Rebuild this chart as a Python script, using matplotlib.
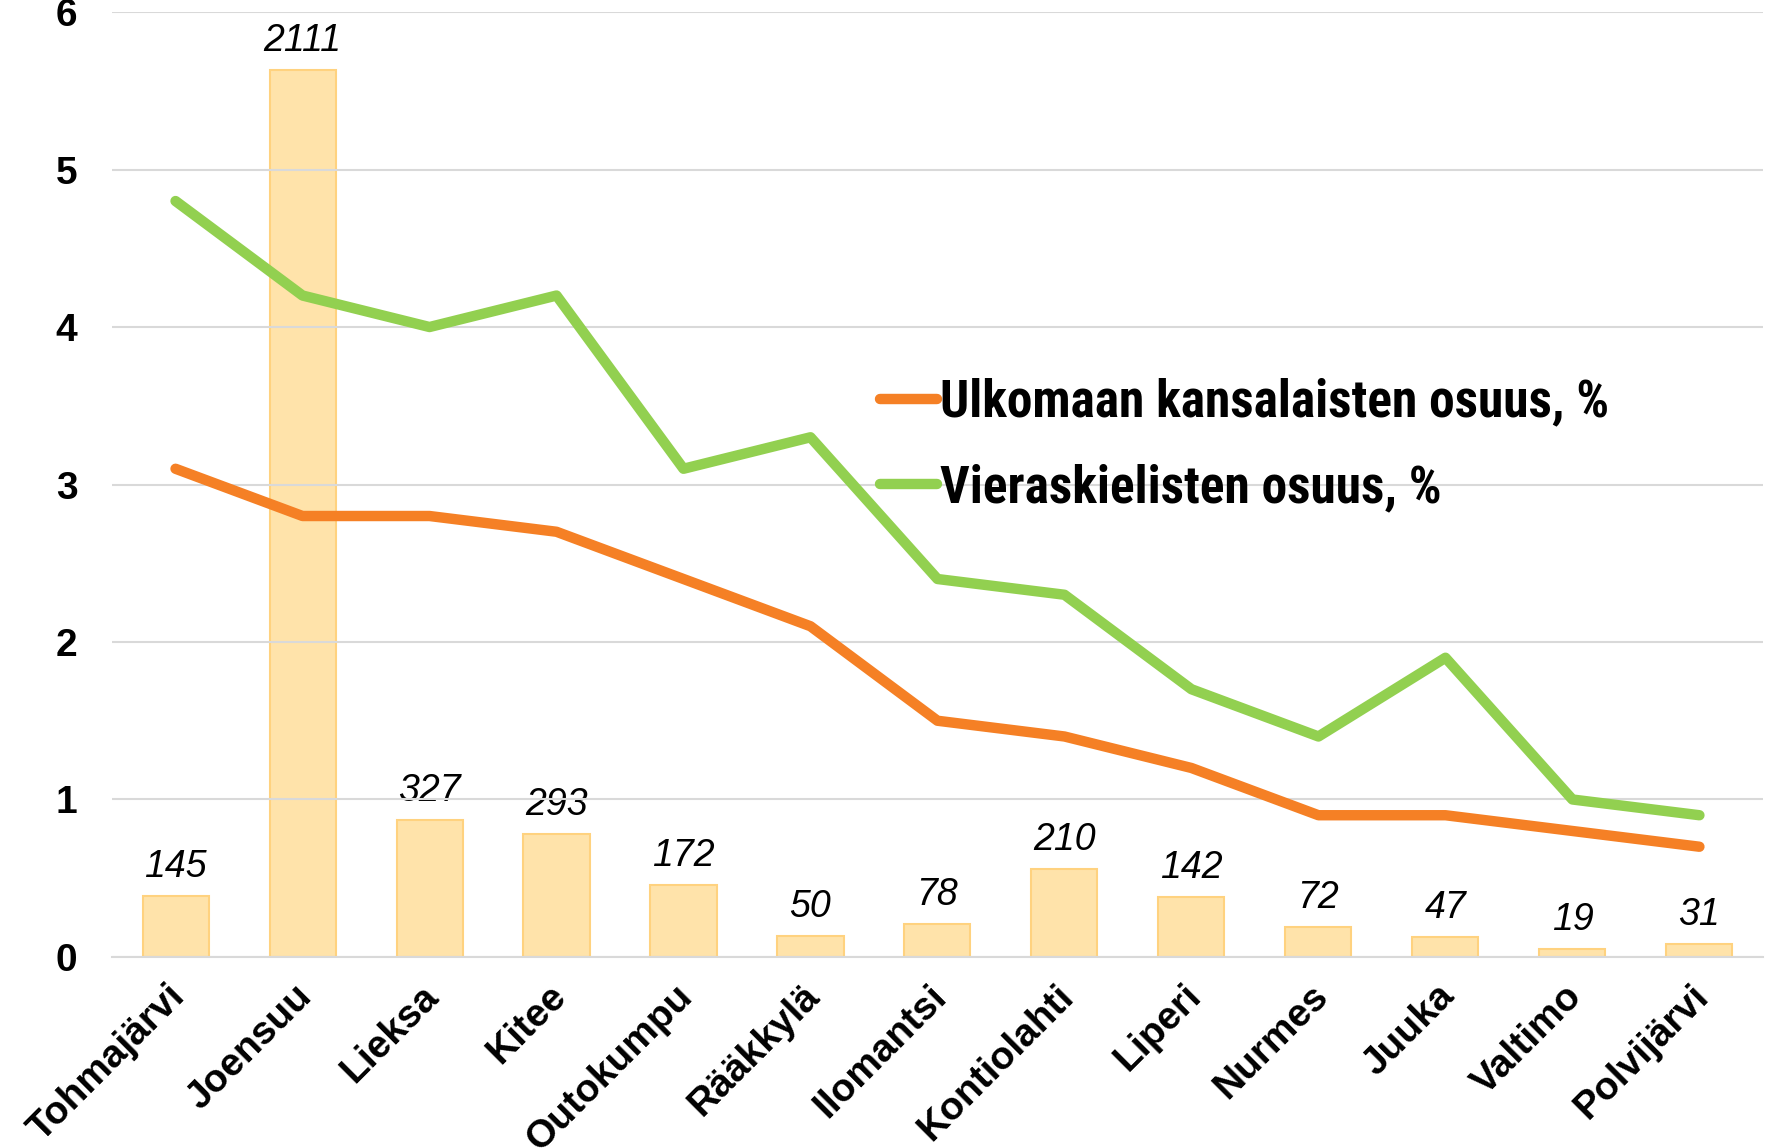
import matplotlib
matplotlib.use("Agg")
import matplotlib.pyplot as plt
import matplotlib.transforms as mtransforms
from matplotlib import font_manager
from matplotlib.font_manager import FontProperties

categories = ["Tohmajärvi", "Joensuu", "Lieksa", "Kitee", "Outokumpu", "Rääkkylä",
              "Ilomantsi", "Kontiolahti", "Liperi", "Nurmes", "Juuka", "Valtimo", "Polvijärvi"]
counts = [145, 2111, 327, 293, 172, 50, 78, 210, 142, 72, 47, 19, 31]
ulkomaan = [3.1, 2.8, 2.8, 2.7, 2.4, 2.1, 1.5, 1.4, 1.2, 0.9, 0.9, 0.8, 0.7]
vieraskiel = [4.8, 4.2, 4.0, 4.2, 3.1, 3.3, 2.4, 2.3, 1.7, 1.4, 1.9, 1.0, 0.9]
yticks = [0, 1, 2, 3, 4, 5, 6]

# find a condensed bold font for the legend, if any
cond = None
for f in font_manager.fontManager.ttflist:
    nm = f.name.lower()
    fn = f.fname.lower()
    is_cond = ("narrow" in nm or "condensed" in nm or "condensed" in fn or "narrow" in fn
               or str(f.stretch) in ("condensed", "semi-condensed", "extra-condensed"))
    is_bold = (f.weight in ("bold", 700, "700") or "bold" in fn) and "italic" not in fn \
        and "oblique" not in fn and str(f.style) == "normal"
    if is_cond and is_bold and "semibold" not in fn and "extrabold" not in fn:
        score = 0 if ("liberation" in nm or "arimo" in nm) else 1 if "roboto" in nm else 2
        if cond is None or score < cond[0]:
            cond = (score, f.fname)

if cond is not None:
    leg_prop = FontProperties(fname=cond[1], size=37)
else:
    leg_prop = FontProperties(family="Liberation Sans", weight="bold", size=31)

plt.rcParams["font.family"] = ["Liberation Sans", "DejaVu Sans"]

fig = plt.figure(figsize=(17.7, 11.48), dpi=100)
ax = fig.add_axes([0.0633, 0.1664, 0.9327, 0.8231])
ax2 = ax.twinx()
ax.set_zorder(ax2.get_zorder() + 1)
ax.patch.set_visible(False)

x = list(range(len(categories)))
ax2.bar(x, counts, width=0.52, color="#FFE3AA", edgecolor="#FFD27F", linewidth=1.5, zorder=2)
ax2.set_ylim(0, 2250)
ax2.set_yticks([])
for s in ax2.spines.values():
    s.set_visible(False)
for xi, c in zip(x, counts):
    ax2.annotate(str(c), (xi, c), xytext=(0, 8), textcoords="offset points",
                 ha="center", va="bottom", fontsize=27, style="italic", color="black")

ax.plot(x, ulkomaan, color="#F58025", lw=7.5, solid_capstyle="round", solid_joinstyle="round",
        label="Ulkomaan kansalaisten osuus, %", zorder=4)
ax.plot(x, vieraskiel, color="#92D050", lw=7.5, solid_capstyle="round", solid_joinstyle="round",
        label="Vieraskielisten osuus, %", zorder=4)

ax.set_xlim(-0.5, len(categories) - 0.5)
ax.set_ylim(0, 6)
ax.set_yticks(yticks)
ax.set_yticklabels([str(t) for t in yticks], fontsize=28, fontweight="bold")
ax.tick_params(axis="y", length=0, pad=25)
ax.grid(axis="y", color="#D9D9D9", lw=1.5)
ax.set_axisbelow(True)
for side in ["left", "right", "top"]:
    ax.spines[side].set_visible(False)
ax.spines["bottom"].set_color("#D9D9D9")
ax.spines["bottom"].set_linewidth(1.5)

ax.set_xticks(x)
ax.set_xticklabels(categories, fontsize=28, fontweight="bold", rotation=45,
                   ha="right", rotation_mode="anchor")
ax.tick_params(axis="x", length=0, pad=18)
offset = mtransforms.ScaledTranslation(-9 / 100, 4 / 100, fig.dpi_scale_trans)
for lbl in ax.get_xticklabels():
    lbl.set_transform(lbl.get_transform() + offset)

leg = ax.legend(loc="upper left", bbox_to_anchor=(0.453, 0.635), frameon=False,
                prop=leg_prop, handlelength=1.1, handletextpad=0.05, labelspacing=0.7,
                borderaxespad=0)
for line in leg.get_lines():
    line.set_solid_capstyle("round")

fig.savefig("out.png", dpi=100)
